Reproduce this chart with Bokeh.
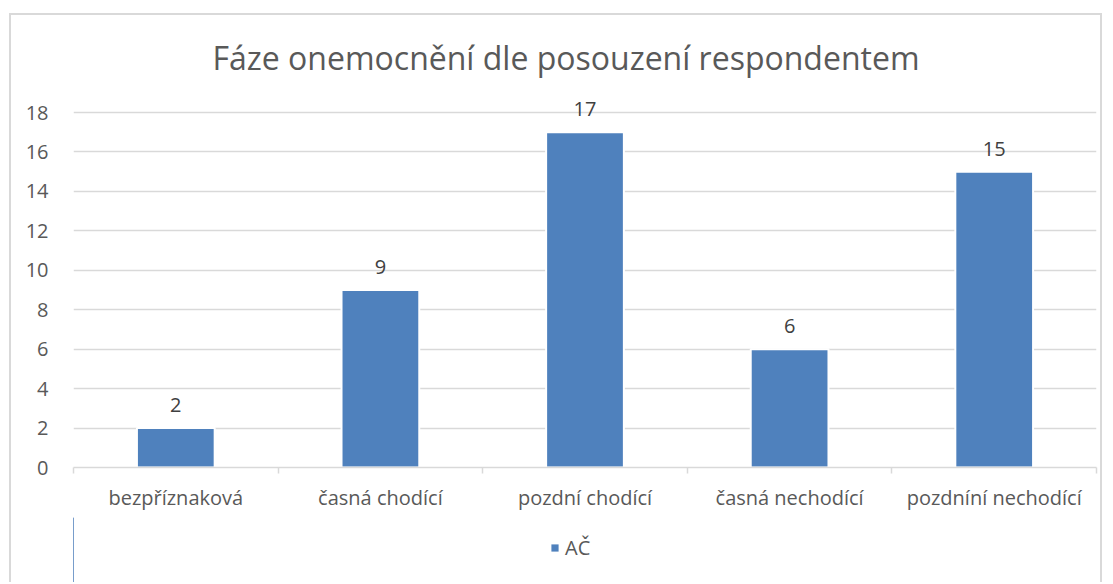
from bokeh.plotting import figure
from bokeh.layouts import column
from bokeh.models import (Range1d, FixedTicker, LinearAxis, ColumnDataSource, LabelSet,
                          Legend, LegendItem)
from bokeh.core.properties import value
from bokeh.embed import file_html
from bokeh.resources import INLINE

categories = ["bezpříznaková", "časná chodící", "pozdní chodící", "časná nechodící", "pozdníní nechodící"]
values = [2, 9, 17, 6, 15]
y_ticks = [0, 2, 4, 6, 8, 10, 12, 14, 16, 18]
series_name = "AČ"
title_text = "Fáze onemocnění dle posouzení respondentem"

FONT = "Open Sans"
GRAY = "#595959"
BAR = "#4F81BD"
EDGE = "2px solid #d9d9d9"

xs = [i + 0.5 for i in range(len(categories))]
bounds = list(range(len(categories) + 1))
src = ColumnDataSource(dict(x=xs, top=values, label=[str(v) for v in values]))

p = figure(width=1093, height=504, output_backend="svg", toolbar_location=None,
           title=title_text,
           x_range=Range1d(0, len(categories)), y_range=Range1d(0, 19.217),
           min_border_left=62, min_border_right=8, min_border_top=73, min_border_bottom=52,
           x_axis_location=None, y_axis_location=None)
p.styles = {"margin-left": "9px", "margin-top": "13px",
            "border-top": EDGE, "border-left": EDGE, "border-right": EDGE}
p.outline_line_color = None
p.background_fill_color = "white"
p.border_fill_color = "white"

p.title.align = "left"
p.title.offset = 139
p.title.standoff = 19
p.title.text_font = FONT
p.title.text_font_size = "32px"
p.title.text_font_style = "normal"
p.title.text_color = GRAY

# y axis
yax = LinearAxis(ticker=FixedTicker(ticks=y_ticks))
yax.axis_line_color = None
yax.major_tick_line_color = None
yax.minor_tick_line_color = None
yax.major_label_text_font = FONT
yax.major_label_text_font_size = "20px"
yax.major_label_text_color = GRAY
yax.major_label_standoff = 19
p.add_layout(yax, "left")

# x axis with boundary ticks
xax1 = LinearAxis(ticker=FixedTicker(ticks=bounds),
                  major_label_overrides={b: "" for b in bounds})
xax1.axis_line_color = "#d9d9d9"
xax1.axis_line_width = 1.5
xax1.major_tick_line_color = "#d9d9d9"
xax1.major_tick_line_width = 1.5
xax1.major_tick_in = 0
xax1.major_tick_out = 6
xax1.minor_tick_line_color = None
xax1.major_label_standoff = 0
p.add_layout(xax1, "below")

# x axis with category labels
xax2 = LinearAxis(ticker=FixedTicker(ticks=xs),
                  major_label_overrides={x: c for x, c in zip(xs, categories)})
xax2.axis_line_color = None
xax2.major_tick_line_color = None
xax2.minor_tick_line_color = None
xax2.major_label_text_font = FONT
xax2.major_label_text_font_size = "20px"
xax2.major_label_text_color = GRAY
xax2.major_label_standoff = 4
p.add_layout(xax2, "below")

p.xgrid.visible = False
p.ygrid.ticker = FixedTicker(ticks=y_ticks)
p.ygrid.grid_line_color = "#d9d9d9"
p.ygrid.grid_line_width = 1.5

r = p.vbar(x="x", top="top", width=0.38, bottom=0, source=src,
           fill_color=BAR, line_color="white", line_width=2)

labels = LabelSet(x="x", y="top", text="label", source=src, text_align="center",
                  text_baseline="bottom", y_offset=16, text_font=value(FONT),
                  text_font_size=value("20px"), text_color="#404040")
p.add_layout(labels)

# legend strip below the chart
p2 = figure(width=1093, height=65, output_backend="svg", toolbar_location=None,
            x_range=Range1d(100, 101), y_range=Range1d(0, 1),
            min_border_left=62, min_border_right=8, min_border_top=0, min_border_bottom=0,
            x_axis_location=None, y_axis_location=None)
p2.styles = {"margin-left": "9px", "border-left": EDGE, "border-right": EDGE}
p2.outline_line_color = None
p2.background_fill_color = "white"
p2.border_fill_color = "white"
p2.grid.visible = False
r2 = p2.vbar(x="x", top="top", width=0.38, bottom=0, source=src,
             fill_color=BAR, line_color=None)

legend = Legend(items=[LegendItem(label=series_name, renderers=[r2])],
                orientation="horizontal", location=(477, 21),
                label_text_font=FONT, label_text_font_size="20px", label_text_color=GRAY,
                glyph_width=9, glyph_height=9, border_line_color=None,
                background_fill_alpha=0, label_standoff=6, padding=2, margin=0)
p2.add_layout(legend)

layout = column(p, p2, spacing=0)
open("out.html", "w").write(file_html(layout, INLINE))
